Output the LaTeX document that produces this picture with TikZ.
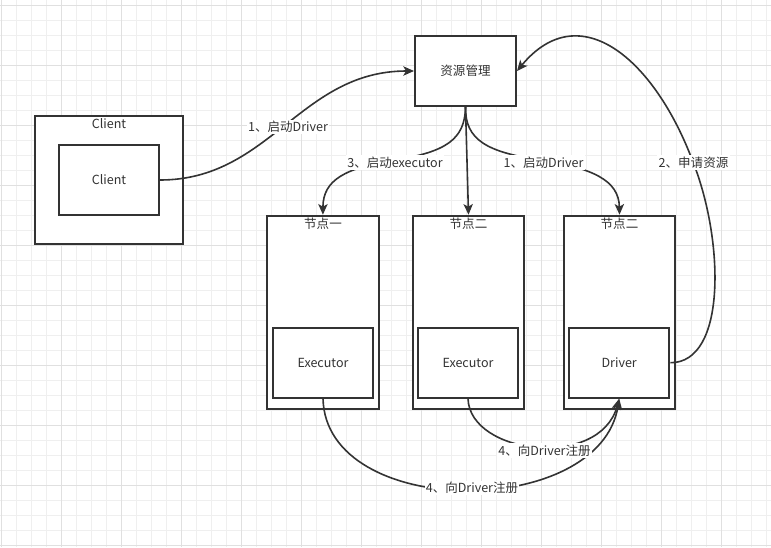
\documentclass[tikz,border=0pt]{standalone}
\usepackage{fontspec}
\setmainfont{Noto Sans CJK SC}
\usetikzlibrary{arrows.meta}
\definecolor{ink}{HTML}{333333}
\definecolor{gridminor}{HTML}{EFEFEF}
\definecolor{gridmajor}{HTML}{E0E0E0}
\tikzset{
  box/.style={draw=ink, line width=1.5pt, fill=white, inner sep=0pt},
  ttl/.style={text=ink, inner sep=0pt, font=\fontsize{9.4}{11}\selectfont},
  lbl/.style={text=ink, fill=white, inner sep=1pt, font=\fontsize{9.4}{11}\selectfont},
  edge/.style={draw=ink, line width=1.2pt, -{Stealth[length=8pt,width=7pt,inset=2pt]}},
  plain/.style={draw=ink, line width=1.2pt}
}
\begin{document}
\begin{tikzpicture}[x=0.75pt,y=-0.75pt]
\useasboundingbox (0,0) rectangle (771,547);
\fill[white] (0,0) rectangle (771,547);
% grid
\foreach \i in {0,...,51} {\draw[gridminor, line width=0.75pt] ({1.3+15*\i},0) -- ({1.3+15*\i},547);}
\foreach \i in {0,...,36} {\draw[gridminor, line width=0.75pt] (0,{5+15*\i}) -- (771,{5+15*\i});}
\foreach \i in {0,...,12} {\draw[gridmajor, line width=0.75pt] ({1.3+60*\i},0) -- ({1.3+60*\i},547);}
\foreach \i in {0,...,9} {\draw[gridmajor, line width=0.75pt] (0,{5+60*\i}) -- (771,{5+60*\i});}

% boxes
\node[box, minimum width=111pt, minimum height=96pt] (co) at (109,180) {};
\node[ttl] (cot) at (109,124) {Client};
\node[box, minimum width=75pt, minimum height=52.5pt, text=ink, font=\fontsize{9.4}{11}\selectfont] (ci) at (109,180) {Client};

\node[box, minimum width=75.75pt, minimum height=52.5pt, text=ink, font=\fontsize{9.4}{11}\selectfont] (rm) at (465.5,71) {资源管理};

\node[box, minimum width=84.2pt, minimum height=145pt] (n1) at (322.9,312.4) {};
\node[box, minimum width=83.7pt, minimum height=145pt] (n2) at (468.5,312.4) {};
\node[box, minimum width=83.7pt, minimum height=145pt] (n3) at (619.5,312.4) {};
\node[ttl] (n1t) at (323,224) {节点一};
\node[ttl] (n2t) at (468.5,224) {节点二};
\node[ttl] (n3t) at (619.5,224) {节点二};

\node[box, minimum width=75.5pt, minimum height=52.5pt, text=ink, font=\fontsize{9.4}{11}\selectfont] (ex1) at (323,362.7) {Executor};
\node[box, minimum width=75.5pt, minimum height=52.5pt, text=ink, font=\fontsize{9.4}{11}\selectfont] (ex2) at (468,362.7) {Executor};
\node[box, minimum width=75.2pt, minimum height=52.5pt, text=ink, font=\fontsize{9.4}{11}\selectfont] (drv) at (619.2,362.7) {Driver};

% edges
\draw[edge] (ci.east) .. controls (270,180) and (300,71) .. (rm.west);
\draw[edge] (rm.south) .. controls (465,140) and (445,152) .. (395,160) .. controls (345,168) and (323,180) .. (n1.north);
\draw[edge] (rm.south) -- (n2.north);
\draw[edge] (rm.south) .. controls (465,140) and (487,152) .. (540,160) .. controls (592,168) and (619,180) .. (n3.north);
\draw[edge] (drv.east) .. controls (727,363) and (724,240) .. (693,162) .. controls (655,60) and (580,-5) .. (rm.east);
\draw[edge] (ex1.south) .. controls (326,520) and (600,520) .. (drv.south);
\draw[edge] (ex2.south) .. controls (470,455) and (600,470) .. (drv.south);

% labels
\node[lbl] (l1) at (288,127) {1、启动Driver};
\node[lbl] (l3) at (395,162.5) {3、启动executor};
\node[lbl] (l1b) at (543.5,162.5) {1、启动Driver};
\node[lbl] (l2) at (693.5,162.5) {2、申请资源};
\node[lbl] (l4a) at (472,488) {4、向Driver注册};
\node[lbl] (l4b) at (544.5,450.5) {4、向Driver注册};
\end{tikzpicture}
\end{document}
